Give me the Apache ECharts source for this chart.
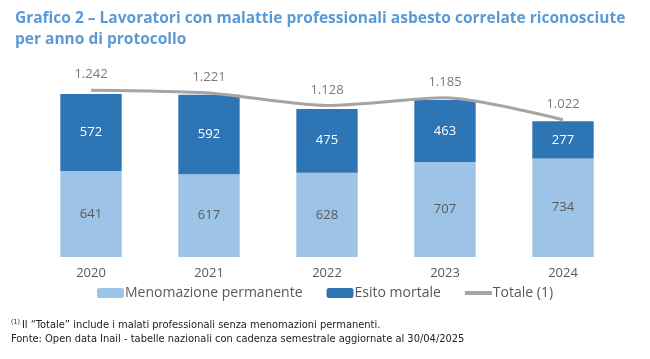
<!DOCTYPE html>
<html><head><meta charset="utf-8">
<script src="https://cdn.jsdelivr.net/npm/echarts@6/dist/echarts.min.js"></script>
<style>html,body{margin:0;padding:0;background:#fff}#c{width:650px;height:359px}</style>
</head><body><div id="c"></div>
<script>
const categories = ['2020','2021','2022','2023','2024'];
const menomazione = [641, 617, 628, 707, 734];
const mortale = [572, 592, 475, 463, 277];
const totale = [1242, 1221, 1128, 1185, 1022];

const fmt = v => { const s = String(v); return s.length > 3 ? s.slice(0, s.length-3) + '.' + s.slice(-3) : s; };
const noteFont = 'DejaVu Sans Condensed';

const chart = echarts.init(document.getElementById('c'));
chart.setOption({
  animation: false,
  textStyle: { fontFamily: 'Open Sans' },
  title: {
    text: 'Grafico 2 – Lavoratori con malattie professionali asbesto correlate riconosciute\nper anno di protocollo',
    left: 10, top: 3,
    textStyle: { color: '#5a9ad4', fontSize: 15.5, fontWeight: 700, lineHeight: 21, fontFamily: 'Open Sans' }
  },
  grid: { left: 32, right: 28, top: 69, bottom: 102 },
  legend: {
    top: 281, left: 'center',
    itemWidth: 27, itemHeight: 10, itemGap: 24,
    textStyle: { color: '#595959', fontSize: 14, padding: [0,0,0,-4] },
    data: ['Menomazione permanente', 'Esito mortale', { name: 'Totale (1)', icon: 'path://M0,0H27V4H0Z' }]
  },
  xAxis: {
    type: 'category', data: categories,
    axisLine: { show: false }, axisTick: { show: false },
    axisLabel: { color: '#595959', fontSize: 13, margin: 10 }
  },
  yAxis: { type: 'value', min: 0, max: 1400, show: false, splitLine: { show: false } },
  series: [
    { name: 'Menomazione permanente', type: 'bar', stack: 't', data: menomazione, barWidth: '52%',
      itemStyle: { color: '#9dc3e6' },
      label: { show: true, position: 'inside', color: '#595959', fontSize: 13 } },
    { name: 'Esito mortale', type: 'bar', stack: 't', data: mortale,
      itemStyle: { color: '#2e75b6' },
      label: { show: true, position: 'inside', color: '#ffffff', fontSize: 13 } },
    { name: 'Totale (1)', type: 'line', data: totale, smooth: 0.25, symbol: 'none', symbolKeepAspect: true,
      lineStyle: { color: '#a5a5a5', width: 3 }, itemStyle: { color: '#a5a5a5' } },
    { name: 'Totale labels', type: 'scatter', data: totale, symbolSize: 0, silent: true,
      label: { show: true, position: 'top', distance: 9, color: '#595959', fontSize: 13, formatter: p => fmt(p.value) } }
  ],
  graphic: [
    { type: 'text', left: 11, top: 319, style: {
      text: '{sup|(1)}{n|Il “Totale” include i malati professionali senza menomazioni permanenti.}',
      rich: { sup: { fontSize: 7, verticalAlign: 'top', fill: '#222', fontFamily: noteFont, padding: [0,2,6,0] },
              n: { fontSize: 11, fill: '#222', fontFamily: noteFont } } } },
    { type: 'text', left: 11, top: 334, style: {
      text: 'Fonte: Open data Inail - tabelle nazionali con cadenza semestrale aggiornate al 30/04/2025',
      fontSize: 11, fill: '#222', fontFamily: noteFont } }
  ]
});
</script></body></html>
